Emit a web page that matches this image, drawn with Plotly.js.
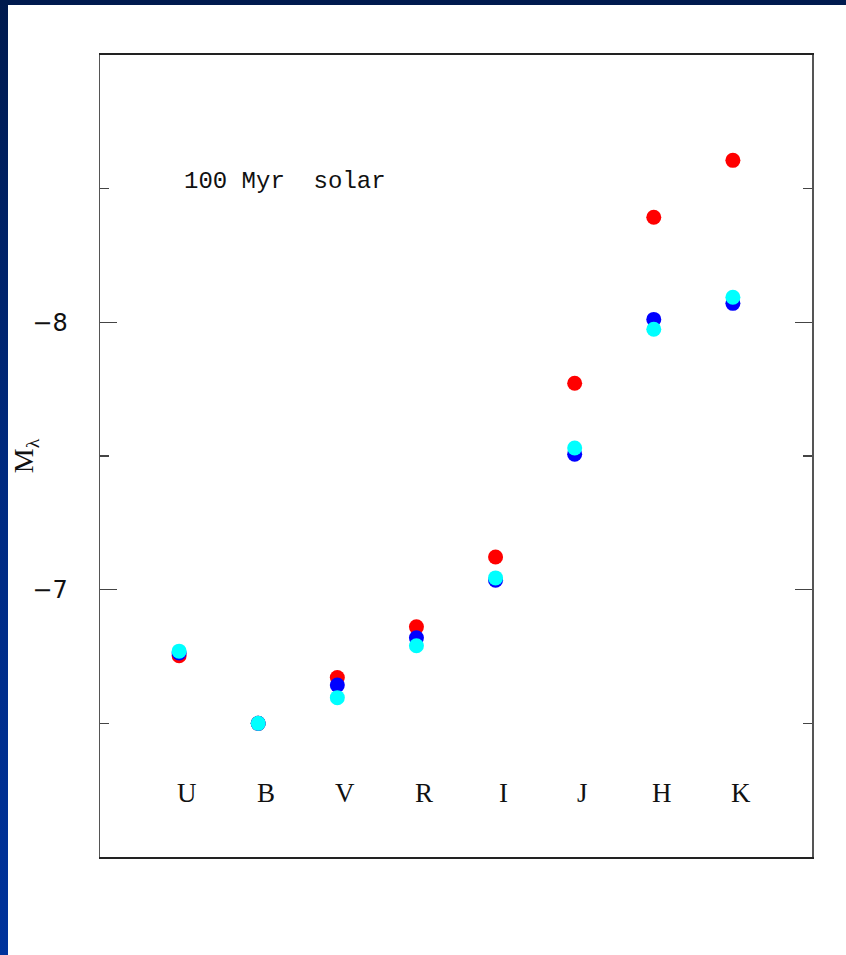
<!DOCTYPE html>
<html>
<head>
<meta charset="utf-8">
<script src="https://cdn.plot.ly/plotly-3.0.1.min.js"></script>
<style>
  html, body { margin: 0; padding: 0; width: 846px; height: 955px; overflow: hidden; }
  body { background: linear-gradient(to bottom, #001a4e 0%, #002a80 50%, #00339c 100%); position: relative; }
  #chart { position: absolute; left: 8px; top: 5px; width: 838px; height: 950px; background: #fff; }
</style>
</head>
<body>
<div id="chart"></div>
<script>
// Photometric bands along the x axis
const bands = ['U', 'B', 'V', 'R', 'I', 'J', 'H', 'K'];
const bandPos = [1, 2, 3, 4, 5, 6, 7, 8];

// Absolute magnitudes M_lambda for each model set
const magRed  = [-6.753, -6.50, -6.671, -6.861, -7.122, -7.772, -8.393, -8.606];
const magBlue = [-6.763, -6.50, -6.643, -6.820, -7.035, -7.507, -8.011, -8.071];
const magCyan = [-6.770, -6.50, -6.596, -6.790, -7.044, -7.530, -7.974, -8.094];

// Labelled magnitude ticks
const yTickVals = [-8, -7];
const yTickText = ['\u22128', '\u22127'];

const labelText = '100 Myr  solar';

function series(y, color) {
  return {
    x: bandPos, y: y, type: 'scatter', mode: 'markers',
    marker: { color: color, size: 15, line: { width: 0 } },
    hoverinfo: 'skip', showlegend: false
  };
}

const traces = [
  series(magRed, '#ff0000'),
  series(magBlue, '#0000ff'),
  series(magCyan, '#00ffff')
];

const bandAnnotations = bands.map((b, i) => ({
  x: bandPos[i], y: -6.239, xref: 'x', yref: 'y',
  text: b, showarrow: false, xshift: 8,
  font: { family: 'Liberation Serif, serif', size: 27, color: '#111' }
}));

const layout = {
  width: 838, height: 950,
  margin: { l: 92, r: 34, t: 50, b: 98 },
  paper_bgcolor: '#ffffff', plot_bgcolor: '#ffffff',
  xaxis: {
    range: [0, 9], showgrid: false, zeroline: false,
    showticklabels: false, ticks: '',
    showline: true, mirror: true, linecolor: '#222', linewidth: 2
  },
  yaxis: {
    range: [-6, -9], showgrid: false, zeroline: false,
    tickmode: 'array', tickvals: yTickVals, ticktext: yTickText,
    ticks: 'inside', ticklen: 17, tickwidth: 1.5, tickcolor: '#444',
    minor: { tickmode: 'array', tickvals: [-8.5, -7.5, -6.5], ticks: 'inside', ticklen: 9, tickwidth: 1.5, tickcolor: '#444' },
    showline: true, mirror: 'allticks', linecolor: '#555', linewidth: 1.5,
    ticklabelstandoff: 26,
    tickfont: { family: 'DejaVu Sans, sans-serif', size: 24, color: '#111' },
    title: { text: 'M<sub>λ</sub>', standoff: 10,
             font: { family: 'Liberation Serif, serif', size: 28, color: '#111' } }
  },
  annotations: bandAnnotations.concat([{
    x: 1.04, y: -8.526, xref: 'x', yref: 'y', xanchor: 'left',
    text: labelText, showarrow: false,
    font: { family: 'Liberation Mono, monospace', size: 24, color: '#111' }
  }])
};

Plotly.newPlot('chart', traces, layout, { staticPlot: true, displayModeBar: false });
</script>
</body>
</html>
